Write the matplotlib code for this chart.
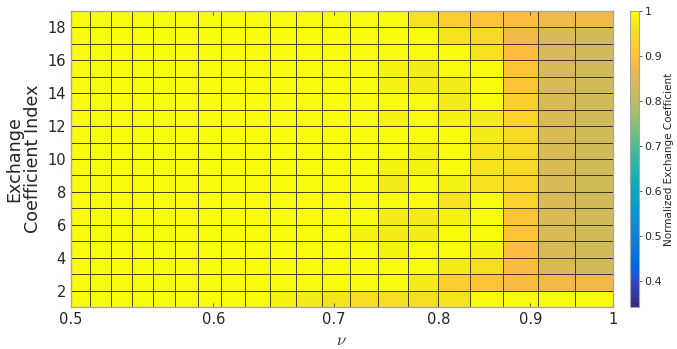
import numpy as np
import matplotlib
matplotlib.use("Agg")
import matplotlib.pyplot as plt
from matplotlib.colors import ListedColormap
from matplotlib.ticker import FixedLocator, NullLocator, FixedFormatter

# Grid edges: 1/nu sampled from 2 down to 1, and the coefficient index 1..19
inv_nu_edges = [2.00, 1.95, 1.90, 1.85, 1.80, 1.75, 1.70, 1.65, 1.60, 1.55, 1.50,
                1.45, 1.40, 1.35, 1.30, 1.25, 1.20, 1.15, 1.10, 1.05, 1.00]
index_edges = list(range(1, 20))

# Normalized exchange coefficient, rows listed from index 18 (top) down to index 1;
# columns 1-10 (nu < 0.667) are at 1.0
left_cols = [1.0] * 10
rows_top_down = [
    [0.995, 0.990, 0.995, 0.990, 0.960, 0.925, 0.905, 0.890, 0.870, 0.870],
    [0.990, 0.990, 1.000, 1.000, 1.000, 0.965, 0.940, 0.875, 0.840, 0.830],
    [0.995, 0.990, 0.990, 1.000, 1.000, 1.000, 0.965, 0.890, 0.840, 0.830],
    [0.995, 0.990, 1.000, 0.980, 0.975, 1.000, 1.000, 0.900, 0.840, 0.830],
    [0.995, 0.990, 0.995, 0.980, 0.975, 0.975, 1.000, 0.905, 0.840, 0.830],
    [0.995, 0.990, 0.990, 0.995, 0.995, 0.970, 1.000, 0.925, 0.840, 0.830],
    [0.995, 0.990, 0.995, 0.985, 0.995, 0.980, 0.975, 0.935, 0.840, 0.830],
    [0.995, 0.990, 1.000, 1.000, 0.990, 0.995, 0.970, 0.940, 0.840, 0.830],
    [0.995, 0.990, 0.995, 0.990, 0.985, 1.000, 0.965, 0.945, 0.840, 0.830],
    [0.995, 0.990, 0.995, 0.985, 0.985, 0.990, 0.960, 0.940, 0.840, 0.830],
    [0.995, 0.990, 0.990, 0.970, 0.990, 0.980, 0.960, 0.935, 0.840, 0.830],
    [0.995, 0.990, 0.990, 0.990, 0.990, 0.965, 1.000, 0.930, 0.840, 0.830],
    [0.995, 0.990, 0.990, 0.975, 0.975, 0.985, 1.000, 0.905, 0.840, 0.830],
    [0.995, 0.990, 0.985, 0.970, 0.970, 1.000, 1.000, 0.905, 0.840, 0.830],
    [0.995, 0.990, 0.995, 0.985, 1.000, 1.000, 0.980, 0.890, 0.840, 0.830],
    [0.995, 0.990, 0.990, 0.990, 0.995, 0.975, 0.955, 0.880, 0.840, 0.830],
    [0.995, 0.990, 1.000, 0.990, 0.970, 0.920, 0.900, 0.880, 0.870, 0.870],
    [0.975, 0.960, 0.950, 0.955, 0.955, 0.960, 1.000, 1.000, 1.000, 1.000],
]
bottom_left_cols = [1.0] * 8 + [0.995, 0.985]

x_ticks = [0.5, 0.6, 0.7, 0.8, 0.9, 1.0]
x_tick_labels = ["0.5", "0.6", "0.7", "0.8", "0.9", "1"]
y_ticks = [2, 4, 6, 8, 10, 12, 14, 16, 18]
cbar_ticks = [0.4, 0.5, 0.6, 0.7, 0.8, 0.9, 1.0]
cbar_tick_labels = ["0.4", "0.5", "0.6", "0.7", "0.8", "0.9", "1"]
c_min, c_max = 0.342, 1.0

# parula colormap
parula_rgb = [
    [0.2081, 0.1663, 0.5292], [0.2116, 0.1898, 0.5777], [0.2123, 0.2138, 0.6270],
    [0.2081, 0.2386, 0.6771], [0.1959, 0.2645, 0.7279], [0.1707, 0.2919, 0.7792],
    [0.1253, 0.3242, 0.8303], [0.0591, 0.3598, 0.8683], [0.0117, 0.3875, 0.8820],
    [0.0060, 0.4086, 0.8828], [0.0165, 0.4266, 0.8786], [0.0329, 0.4430, 0.8720],
    [0.0498, 0.4586, 0.8641], [0.0629, 0.4737, 0.8554], [0.0723, 0.4887, 0.8467],
    [0.0779, 0.5040, 0.8384], [0.0793, 0.5200, 0.8312], [0.0749, 0.5375, 0.8263],
    [0.0641, 0.5570, 0.8240], [0.0488, 0.5772, 0.8228], [0.0343, 0.5966, 0.8199],
    [0.0265, 0.6137, 0.8135], [0.0239, 0.6287, 0.8038], [0.0231, 0.6418, 0.7913],
    [0.0228, 0.6535, 0.7768], [0.0267, 0.6642, 0.7607], [0.0384, 0.6743, 0.7436],
    [0.0590, 0.6838, 0.7254], [0.0843, 0.6928, 0.7062], [0.1133, 0.7015, 0.6859],
    [0.1453, 0.7098, 0.6646], [0.1801, 0.7177, 0.6424], [0.2178, 0.7250, 0.6193],
    [0.2586, 0.7317, 0.5954], [0.3022, 0.7376, 0.5712], [0.3482, 0.7424, 0.5473],
    [0.3953, 0.7459, 0.5244], [0.4420, 0.7481, 0.5033], [0.4871, 0.7491, 0.4840],
    [0.5300, 0.7491, 0.4661], [0.5709, 0.7485, 0.4494], [0.6099, 0.7473, 0.4337],
    [0.6473, 0.7456, 0.4188], [0.6834, 0.7435, 0.4044], [0.7184, 0.7411, 0.3905],
    [0.7525, 0.7384, 0.3768], [0.7858, 0.7356, 0.3633], [0.8185, 0.7327, 0.3498],
    [0.8507, 0.7299, 0.3360], [0.8824, 0.7274, 0.3217], [0.9139, 0.7258, 0.3063],
    [0.9450, 0.7261, 0.2886], [0.9739, 0.7314, 0.2666], [0.9938, 0.7455, 0.2403],
    [0.9990, 0.7653, 0.2164], [0.9955, 0.7861, 0.1967], [0.9880, 0.8066, 0.1794],
    [0.9789, 0.8271, 0.1633], [0.9697, 0.8481, 0.1475], [0.9626, 0.8705, 0.1309],
    [0.9589, 0.8949, 0.1132], [0.9598, 0.9218, 0.0948], [0.9661, 0.9514, 0.0755],
    [0.9763, 0.9831, 0.0538],
]
parula = ListedColormap(parula_rgb, name="parula")

# assemble the coefficient matrix, bottom row first
matrix_rows = []
for i, r in enumerate(rows_top_down):
    left = bottom_left_cols if i == len(rows_top_down) - 1 else left_cols
    matrix_rows.append(left + r)
C = np.array(matrix_rows[::-1])
nu_edges = 1.0 / np.array(inv_nu_edges)
idx_edges = np.array(index_edges)

plt.rcParams["mathtext.fontset"] = "cm"
text_col = "#262626"

fig = plt.figure(figsize=(6.77, 3.49), dpi=100)
ax = fig.add_axes([70.7 / 677, 1 - 307 / 349, 542 / 677, 296 / 349])

mesh = ax.pcolormesh(nu_edges, idx_edges, C, cmap=parula, vmin=c_min, vmax=c_max,
                     edgecolors=(0.1, 0.1, 0.1, 0.8), linewidth=0.6, shading="flat")

ax.set_xscale("log")
ax.set_xlim(0.5, 1.0)
ax.set_ylim(1, 19)
ax.xaxis.set_major_locator(FixedLocator(x_ticks))
ax.xaxis.set_major_formatter(FixedFormatter(x_tick_labels))
ax.xaxis.set_minor_locator(NullLocator())
ax.set_yticks(y_ticks)
ax.tick_params(axis="both", direction="in", length=3, labelsize=10.5,
               colors=text_col, width=0.5, top=True, right=True)
for sp in ax.spines.values():
    sp.set_color("#A6A6A6")
    sp.set_linewidth(1.0)

ax.set_xlabel(r"$\nu$", fontsize=12, color=text_col, labelpad=3)
ax.set_ylabel("Exchange\nCoefficient Index", fontsize=12.6, color=text_col,
              linespacing=1.05, labelpad=4)

cax = fig.add_axes([629.5 / 677, 1 - 306.7 / 349, 9.5 / 677, 295.5 / 349])
cb = fig.colorbar(mesh, cax=cax)
cb.set_ticks(cbar_ticks)
cb.set_ticklabels(cbar_tick_labels)
cb.ax.tick_params(labelsize=8, colors=text_col, length=2.5, width=0.5,
                  direction="out", pad=1.5)
cb.outline.set_edgecolor("#A6A6A6")
cb.outline.set_linewidth(0.8)
cb.set_label("Normalized Exchange Coefficient", fontsize=7.5, color=text_col)
cb.ax.yaxis.set_label_coords(3.6, 0.5)

fig.savefig("out.png", dpi=100)
